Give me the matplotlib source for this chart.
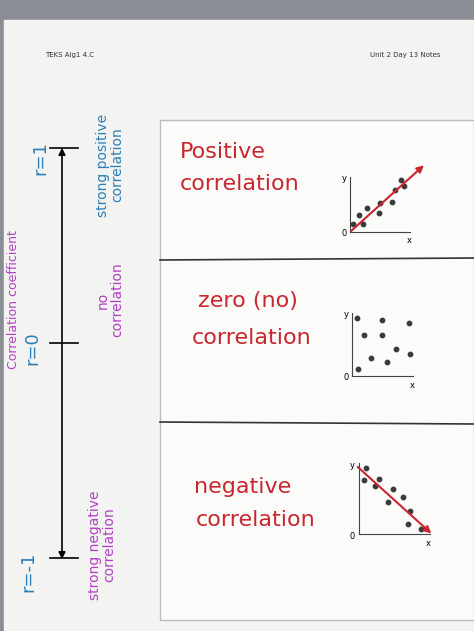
import matplotlib.pyplot as plt
from matplotlib.patches import Rectangle

# mini scatter data (plot units 0-10)
pos_x = [0.5, 1.5, 2.2, 3.0, 5.0, 5.3, 7.3, 7.8, 9.0, 9.5]
pos_y = [1.6, 3.3, 1.5, 4.5, 3.6, 5.6, 5.8, 8.0, 10.0, 8.7]
zero_x = [0.9, 5.1, 9.8, 2.1, 5.1, 7.5, 9.9, 3.2, 6.1, 1.1]
zero_y = [9.6, 9.3, 8.8, 6.8, 6.9, 4.5, 3.7, 3.0, 2.4, 1.1]
neg_x = [1.0, 0.7, 3.0, 2.3, 5.0, 6.5, 4.3, 7.5, 7.2, 9.2]
neg_y = [9.7, 8.0, 8.1, 7.1, 6.7, 5.4, 4.7, 3.4, 1.5, 0.7]

W, H = 474, 631
RED = "#c9262e"
BLUE = "#2a7fb8"
PURPLE = "#b23fc4"

fig = plt.figure(figsize=(W / 100, H / 100), dpi=100)
ax = fig.add_axes([0, 0, 1, 1])
ax.set_xlim(0, W)
ax.set_ylim(H, 0)
ax.axis("off")

# background + paper
ax.add_patch(Rectangle((0, 0), W, H, color="#8a8d94", zorder=0))
ax.add_patch(Rectangle((4, 20), W - 4, H - 20, color="#f3f3f1", zorder=1))
ax.add_patch(Rectangle((160, 120), W - 160, 500, facecolor="#fbfbfa",
                       edgecolor="#bdbdbd", lw=1, zorder=2))
ax.plot([160, W], [260, 258], color="#333333", lw=1.2, zorder=3)
ax.plot([160, W], [422, 424], color="#333333", lw=1.2, zorder=3)

ax.text(45, 55, "TEKS Alg1 4.C", fontsize=5, color="#333333", va="center", zorder=4)
ax.text(370, 55, "Unit 2 Day 13 Notes", fontsize=5, color="#333333", va="center", zorder=4)

# number line
ax.annotate("", xy=(62, 145), xytext=(62, 562),
            arrowprops=dict(arrowstyle="<|-|>", color="black", lw=1.2), zorder=4)
for yy in [148, 343, 558]:
    ax.plot([50, 78], [yy, yy], color="black", lw=1.2, zorder=4)

hand = dict(family="DejaVu Sans", rotation=90, va="center", ha="center", zorder=4)
ax.text(40, 158, "r=1", color=BLUE, fontsize=13, **hand)
ax.text(110, 165, "strong positive\ncorrelation", color=BLUE, fontsize=10, linespacing=1.0, **hand)
ax.text(14, 300, "Correlation coefficient", color=PURPLE, fontsize=9, **hand)
ax.text(32, 348, "r=0", color=BLUE, fontsize=13, **hand)
ax.text(110, 300, "no\ncorrelation", color=PURPLE, fontsize=10, linespacing=1.0, **hand)
ax.text(28, 572, "r=-1", color=BLUE, fontsize=13, **hand)
ax.text(102, 545, "strong negative\ncorrelation", color=PURPLE, fontsize=10, linespacing=1.0, **hand)

red = dict(color=RED, fontsize=16, va="center", zorder=4)
ax.text(180, 152, "Positive", **red)
ax.text(180, 184, "correlation", **red)
ax.text(198, 301, "zero (no)", **red)
ax.text(192, 338, "correlation", **red)
ax.text(194, 487, "negative", **red)
ax.text(196, 520, "correlation", **red)


def mini(x0, y0, w, h, xs, ys, arrow=None):
    m = fig.add_axes([x0 / W, 1 - (y0 + h) / H, w / W, h / H])
    m.set_xlim(0, 10.5)
    m.set_ylim(0, 10.5)
    m.patch.set_alpha(0)
    for s in ["top", "right"]:
        m.spines[s].set_visible(False)
    for s in ["left", "bottom"]:
        m.spines[s].set_color("#444444")
        m.spines[s].set_linewidth(0.8)
    m.set_xticks([])
    m.set_yticks([])
    m.scatter(xs, ys, s=10, color="#3a3a3a", zorder=3, clip_on=False)
    m.text(-0.6, 10.2, "y", fontsize=6, ha="right", va="center")
    m.text(10.3, -0.8, "x", fontsize=6, ha="center", va="top")
    m.text(-0.6, -0.3, "0", fontsize=6, ha="right", va="center")
    if arrow:
        m.annotate("", xy=arrow[1], xytext=arrow[0],
                   arrowprops=dict(arrowstyle="-|>", color=RED, lw=1.5), annotation_clip=False)


mini(350, 177, 60, 55, pos_x, pos_y, ((-0.2, -0.2), (13.3, 13.1)))
mini(352, 313, 61, 63, zero_x, zero_y)
mini(359, 463, 71, 71, neg_x, neg_y, ((-0.5, 10.2), (11.0, -0.2)))

fig.savefig("out.png", dpi=100)
